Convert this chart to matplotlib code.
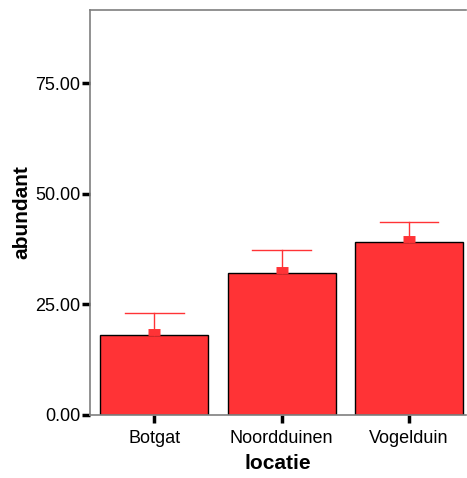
import numpy as np
import matplotlib.pyplot as plt

plt.rcParams['font.family'] = ['Liberation Sans', 'DejaVu Sans']

locaties = ['Botgat', 'Noordduinen', 'Vogelduin']
gemiddelde = [18.1, 32.1, 39.1]
bovengrens = [23.1, 37.3, 43.7]
yticks = [0, 25, 50, 75]

fig = plt.figure(figsize=(4.67, 4.78), dpi=100)
ax = fig.add_axes([0.193, 0.132, 0.805, 0.847])

x = np.arange(len(locaties))
ax.bar(x, gemiddelde, width=0.85, color='#ff3336', edgecolor='black',
       linewidth=1.0, zorder=2)

# foutbalken (alleen bovenkant zichtbaar)
for xi, m, hi in zip(x, gemiddelde, bovengrens):
    ax.plot([xi, xi], [m, hi], color='#ff3336', linewidth=1.0, zorder=3)
    ax.plot([xi - 0.23, xi + 0.23], [hi, hi], color='#ff3336', linewidth=1.0, zorder=3)
    ax.plot(xi, m + 0.6, marker='_', markersize=9, markeredgewidth=5,
            color='#ff3336', zorder=3)

ax.set_xlim(-0.505, 2.45)
ax.set_ylim(0, 91.6)
ax.set_xticks(x)
ax.set_xticklabels(locaties, fontsize=13)
ax.set_yticks(yticks)
ax.set_yticklabels(['%.2f' % v for v in yticks], fontsize=13)
ax.tick_params(axis='both', length=6, width=2.5, color='black', pad=1)
ax.tick_params(axis='x', pad=5)

for s in ['left', 'top', 'bottom']:
    ax.spines[s].set_color('#7f7f7f')
    ax.spines[s].set_linewidth(1.2)
ax.spines['right'].set_visible(False)

ax.set_xlabel('locatie', fontsize=15, fontweight='bold', labelpad=5)
ax.set_ylabel('abundant', fontsize=15, fontweight='bold', labelpad=3)

fig.savefig('out.png', dpi=100)
